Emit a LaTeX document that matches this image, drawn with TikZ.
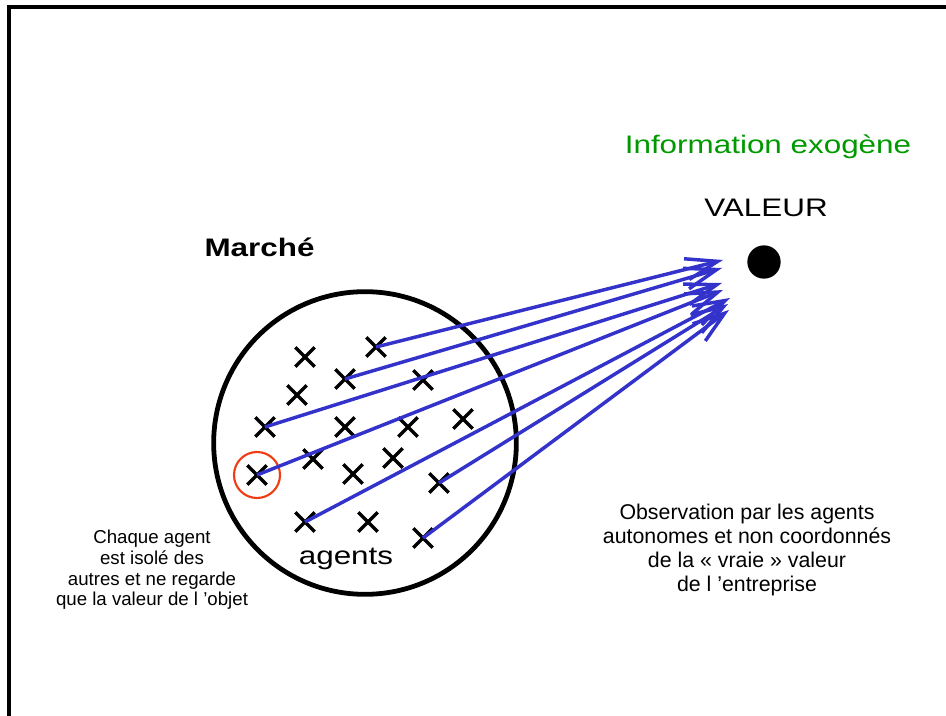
\documentclass[tikz,border=0pt]{standalone}
\usepackage{fontspec}
\setmainfont{Liberation Sans}
\newfontfamily\widefont[FakeStretch=1.24]{Liberation Sans}
\usetikzlibrary{arrows.meta,shapes.misc}
\definecolor{obsblue}{RGB}{51,51,204}
\definecolor{exogreen}{RGB}{0,153,0}
\definecolor{isored}{RGB}{240,60,20}

\begin{document}
\begin{tikzpicture}[x=0.75pt,y=-0.75pt,
    agent/.style={cross out,draw,line width=2.6pt,minimum size=12pt,inner sep=0pt},
    obs/.style={obsblue,line width=2.6pt,-{Straight Barb[length=24pt,width=16pt]}},
    big/.style={font=\widefont\fontsize{19}{23}\selectfont}]
  \useasboundingbox (0,0) rectangle (946,716);
  \draw[line width=2.3pt] (9,716) -- (9,7) -- (946,7);
  % titles
  \node[big,text=exogreen,anchor=base] (exo) at (768,154) {Information exogène};
  \node[big,anchor=base] (valeurlbl) at (766,217) {VALEUR};
  \node[big,font=\widefont\bfseries\fontsize{19}{23}\selectfont,anchor=base] (marchelbl) at (259.5,257) {Marché};
  \node[circle,fill,minimum size=25pt,inner sep=0pt] (valeur) at (764,262) {};
  % the market
  \node[circle,draw,line width=3.6pt,minimum size=227pt] (marche) at (365,443) {};
  \node[big,anchor=base] (agentslbl) at (346,564) {agents};
  \foreach \x/\y [count=\i] in {305/357,376/347,297/395,345/379,423/380,265/427,345/427,
      408/427,463/419,313/459,393/458,353/474,257/475,439/483,305/522,368/522,423/538}
    \node[agent] (a\i) at (\x,\y) {};
  \node[circle,draw=isored,line width=1.6pt,minimum size=34.5pt] (isole) at (a13) {};
  % arrows to the value
  \coordinate (t1) at (723,260);
  \coordinate (t2) at (722,268);
  \coordinate (t3) at (722,283);
  \coordinate (t4) at (723,290);
  \coordinate (t5) at (730,298);
  \coordinate (t6) at (728,304);
  \coordinate (t7) at (729,310);
  \foreach \i/\j in {2/1,4/2,6/3,13/4,15/5,14/6,17/7}
    \draw[obs] (a\i.center) -- (t\j);
  % comments
  \node[align=center,font=\fontsize{16}{18}\selectfont] (observation) at (747,550)
    {Observation par les agents\\autonomes et non coordonnés\\de la « vraie » valeur\\de l ’entreprise};
  \node[align=center,font=\fontsize{14}{15.5}\selectfont] (chaque) at (152,570)
    {Chaque agent\\est isolé des\\autres et ne regarde\\que la valeur de l ’objet};
\end{tikzpicture}
\end{document}
